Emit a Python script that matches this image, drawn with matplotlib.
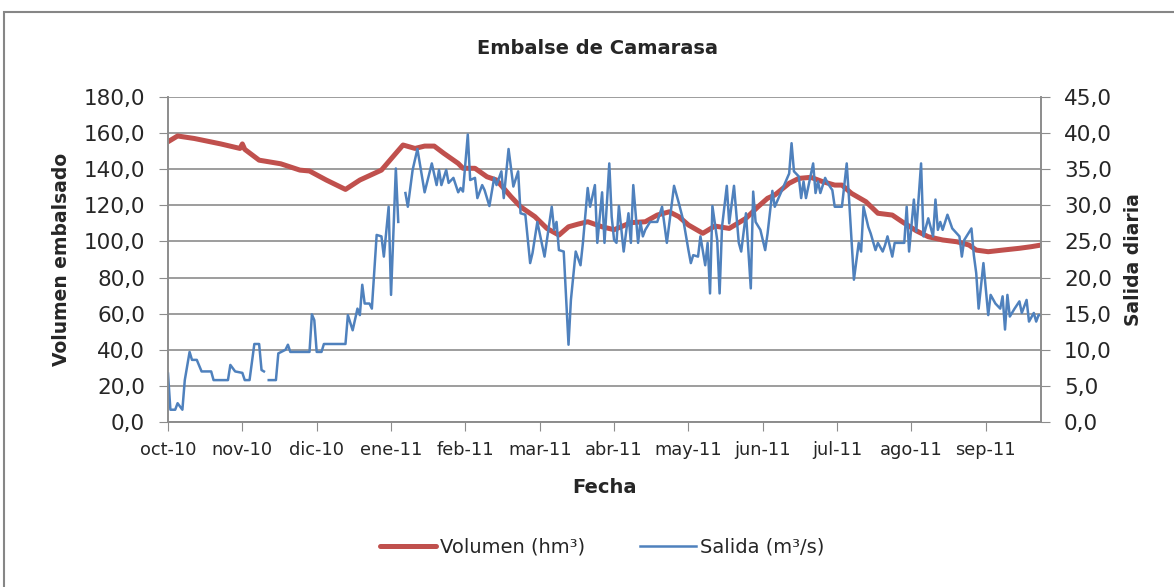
import numpy as np
import matplotlib
matplotlib.use("Agg")
import matplotlib.pyplot as plt
from matplotlib.ticker import FuncFormatter, MultipleLocator
from matplotlib.patches import Rectangle

# Serie diaria (índice = día desde el 1-oct-2010)
vol_dia = [0, 4, 11, 22, 30, 31, 32, 38, 47, 55, 59, 66, 74, 80, 89, 95, 98, 103, 107, 111,
           115, 121, 123, 128, 133, 137, 143, 147, 153, 158, 163, 167, 171, 175, 181, 186, 193,
           199, 204, 209, 213, 217, 223, 228, 234, 241, 246, 250, 253, 259, 263, 268, 273, 278,
           281, 285, 291, 296, 302, 306, 312, 317, 323, 329, 334, 337, 342, 348, 355, 360, 364]
volumen = [155.2, 158.4, 157.0, 154.0, 151.5, 154.0, 151.0, 145.0, 143.0, 139.5, 139.0, 134.0,
           128.8, 134.0, 139.5, 148.8, 153.4, 151.5, 152.8, 152.8, 148.8, 143.2, 140.5, 140.5,
           135.8, 134.0, 124.8, 119.2, 113.7, 107.2, 103.5, 108.1, 109.6, 110.9, 108.1, 106.5,
           110.4, 110.9, 114.6, 116.4, 113.7, 109.1, 104.5, 108.5, 107.2, 112.8, 119.2, 123.9,
           125.7, 132.2, 134.9, 135.5, 133.1, 131.2, 131.2, 126.6, 122.0, 115.6, 114.6, 111.0,
           105.9, 102.6, 100.8, 99.8, 98.0, 95.2, 94.3, 95.2, 96.2, 97.1, 98.0]

sal_dia = [0, 1, 3, 4, 6, 7, 9, 10, 12, 14, 18, 19, 25, 26, 28, 31, 32, 34, 36, 38, 39, 40, 41,
           42, 45, 46, 49, 50, 51, 59, 60, 61, 62, 64, 65, 74, 75, 77, 79, 80, 81, 82, 84, 85, 86,
           87, 89, 90, 92, 93, 95, 96, 97, 99, 100, 102, 104, 107, 110, 112, 113, 114, 116, 117,
           119, 121, 122, 123, 125, 126, 128, 129, 131, 132, 134, 136, 137, 139, 140, 142, 144,
           146, 147, 149, 151, 152, 154, 156, 157, 158, 160, 161, 162, 163, 165, 167, 168, 170,
           172, 173, 175, 176, 178, 179, 181, 182, 184, 185, 186, 187, 188, 190, 192, 193, 194,
           196, 197, 198, 199, 201, 204, 206, 208, 211, 213, 215, 217, 218, 219, 221, 222, 224,
           225, 226, 227, 229, 230, 231, 233, 234, 236, 238, 239, 241, 243, 244, 245, 247, 249,
           250, 252, 253, 256, 259, 260, 261, 263, 264, 265, 266, 269, 270, 271, 272, 274, 275,
           277, 278, 281, 283, 284, 286, 288, 289, 290, 292, 293, 295, 296, 298, 299, 300, 302,
           303, 307, 308, 309, 311, 312, 314, 315, 317, 319, 320, 321, 322, 323, 325, 327, 330,
           331, 332, 335, 336, 337, 338, 340, 342, 343, 345, 347, 348, 349, 350, 351, 353, 355,
           356, 358, 359, 361, 362, 363, 364]
salida = [6.7, 1.7, 1.7, 2.6, 1.7, 5.8, 9.7, 8.6, 8.6, 7.0, 7.0, 5.8, 5.8, 7.9, 7.0, 6.8, 5.8,
          5.8, 10.8, 10.8, 7.2, 7.0, np.nan, 5.8, 5.8, 9.5, 10.0, 10.7, 9.7, 9.7, 14.9, 14.1, 9.7,
          9.7, 10.8, 10.8, 14.8, 12.7, 15.7, 14.8, 19.0, 16.4, 16.4, 15.7, 20.8, 25.9, 25.7, 22.9,
          29.8, 17.6, 35.1, 27.7, np.nan, 31.7, 29.8, 34.9, 37.8, 31.8, 35.8, 32.8, 34.9, 32.8,
          34.9, 33.1, 33.8, 31.8, 32.4, 31.9, 39.8, 33.5, 33.8, 31.0, 32.8, 32.1, 29.9, 33.8, 32.8,
          34.7, 31.0, 37.8, 32.6, 34.7, 28.9, 28.7, 22.0, 23.4, 27.7, 24.5, 22.9, 25.2, 29.8, 26.6,
          27.7, 23.8, 23.6, 10.7, 16.9, 23.6, 21.7, 24.8, 32.4, 29.8, 32.8, 24.8, 31.8, 24.8, 35.8,
          28.4, 25.2, 24.8, 29.9, 23.6, 28.9, 24.8, 32.8, 24.8, 27.7, 25.7, 26.6, 27.7, 27.7, 29.8,
          24.8, 32.7, 30.3, 27.7, 23.8, 22.0, 23.1, 22.9, 25.7, 21.7, 24.8, 17.8, 29.9, 25.2, 17.8,
          27.0, 32.7, 27.5, 32.7, 24.8, 23.6, 28.9, 18.5, 31.9, 27.7, 26.6, 23.8, 26.1, 32.0, 29.8,
          32.1, 34.4, 38.6, 34.7, 34.0, 31.0, 33.3, 31.0, 35.8, 31.7, 33.3, 31.7, 33.8, 33.1, 32.1,
          29.8, 29.8, 35.8, 30.7, 19.7, 24.8, 23.6, 29.8, 27.0, 26.1, 23.8, 24.8, 23.6, 24.5, 25.7,
          22.9, 24.8, 24.8, 29.8, 23.6, 30.8, 26.4, 35.8, 25.7, 28.2, 25.7, 30.8, 26.6, 27.7, 26.6,
          28.7, 26.8, 25.7, 22.9, 25.2, 26.8, 23.1, 20.6, 15.7, 22.0, 14.8, 17.6, 16.4, 15.7, 17.4,
          12.8, 17.6, 14.6, 15.7, 16.7, 15.1, 16.9, 13.9, 15.1, 13.9, 14.8, 14.8]

etiquetas = ['oct-10', 'nov-10', 'dic-10', 'ene-11', 'feb-11', 'mar-11',
             'abr-11', 'may-11', 'jun-11', 'jul-11', 'ago-11', 'sep-11']

rojo = '#C0504D'
azul = '#4F81BD'
gris = '#8C8C8C'
texto = '#262626'

plt.rcParams['font.family'] = 'DejaVu Sans'

fig = plt.figure(figsize=(11.74, 5.87), dpi=100)
ax = fig.add_axes([0.1431, 0.2811, 0.7436, 0.5537])
ax2 = ax.twinx()

ax.plot(vol_dia, volumen, color=rojo, lw=3.6, solid_capstyle='round', label='Volumen (hm³)')
ax2.plot(sal_dia, salida, color=azul, lw=1.8, label='Salida (m³/s)')

coma = FuncFormatter(lambda v, p: f'{v:.1f}'.replace('.', ','))

ax.set_xlim(0, 364)
ax.set_ylim(0, 180)
ax2.set_ylim(0, 45)
ax.yaxis.set_major_locator(MultipleLocator(20))
ax2.yaxis.set_major_locator(MultipleLocator(5))
ax.yaxis.set_major_formatter(coma)
ax2.yaxis.set_major_formatter(coma)
ax.set_xticks(range(0, 365, 31))
ax.set_xticklabels(etiquetas)

ax.grid(axis='y', color=gris, lw=1.2)
ax.set_axisbelow(True)
for a in (ax, ax2):
    for s in a.spines.values():
        s.set_color(gris)
        s.set_linewidth(1.2)
    a.spines['top'].set_visible(False)
ax.tick_params(axis='y', labelsize=15.5, length=6.5, color=gris, pad=10, labelcolor=texto)
ax2.tick_params(axis='y', labelsize=15.5, length=6.5, color=gris, pad=10, labelcolor=texto)
ax.tick_params(axis='x', labelsize=12.8, length=6.5, color=gris, pad=7, labelcolor=texto)

ax.set_ylabel('Volumen embalsado', fontsize=13.5, fontweight='bold', labelpad=9, color=texto)
ax2.set_ylabel('Salida diaria', fontsize=13.5, fontweight='bold', labelpad=9, color=texto)
ax.set_xlabel('Fecha', fontsize=14, fontweight='bold', labelpad=14, color=texto)
fig.text(0.509, 0.918, 'Embalse de Camarasa', ha='center', va='center',
         fontsize=14, fontweight='bold', color=texto)

h1, l1 = ax.get_legend_handles_labels()
h2, l2 = ax2.get_legend_handles_labels()
fig.legend(h1 + h2, l1 + l2, loc='center', bbox_to_anchor=(0.513, 0.068), ncol=2,
           frameon=False, fontsize=14, handlelength=2.9, columnspacing=2.8, handletextpad=0.2,
           labelcolor=texto)

fig.patches.append(Rectangle((4 / 1174, -0.05), 1.1, 1 - 12 / 587 + 0.05, fill=False,
                             edgecolor='#868686', lw=1.5, transform=fig.transFigure))

fig.savefig('out.png', dpi=100)
